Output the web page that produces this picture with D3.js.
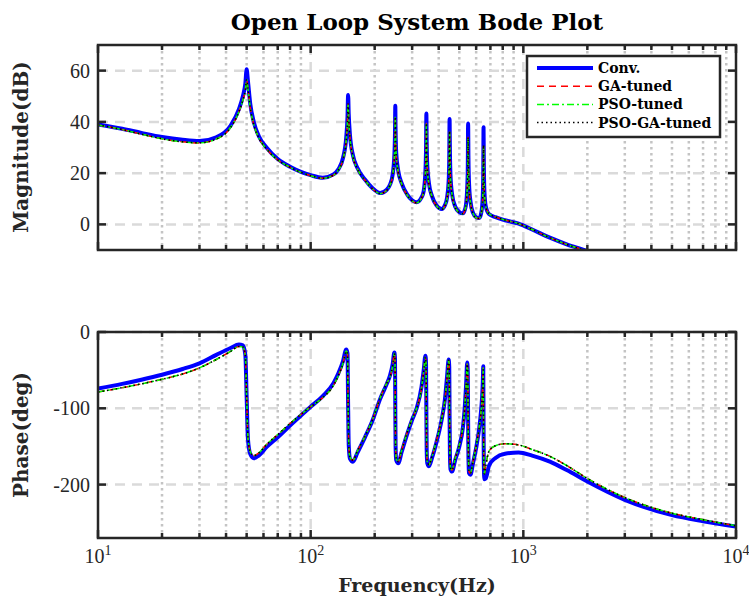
<!DOCTYPE html>
<html>
<head>
<meta charset="utf-8">
<script src="https://cdn.jsdelivr.net/npm/d3@7"></script>
<style>
  body { margin: 0; background: #fff; }
</style>
</head>
<body>
<div id="chart"></div>
<script>
var w = 749;
var h = 599;

// frequency points (Hz) shared by every series
var freq = [
  10, 13, 16, 20, 25, 30, 36, 42, 46, 48, 49.3, 50, 50.7, 52, 54, 57, 62, 70, 80, 90, 100, 114, 128,
  135, 142, 147, 149, 150, 151, 153, 158, 166, 180, 196, 212, 228,
  236, 243, 247.5, 249.2, 250, 250.8, 252.5, 258, 268, 285, 300, 315,
  332, 340, 346.5, 348.8, 350, 351.2, 353.5, 360, 372, 390, 413,
  428, 438, 445.5, 448.4, 450, 451.6, 454.5, 462, 478, 500, 520,
  530, 538, 544.5, 548, 550, 552, 555.5, 564, 580, 600, 621,
  632, 640, 645, 648, 650, 652, 656, 666, 690, 740, 820, 950, 1100, 1333, 1600, 2000, 3000, 5000, 7000, 10000
];

// magnitude (dB)
var magConv = [
  39.0, 37.3, 35.7, 34.1, 33.0, 32.5, 34.0, 38.5, 45.0, 50.0, 55.0, 60.5, 56.0, 47.0, 40.0, 34.5, 30.0, 25.5, 22.5, 20.5, 19.2, 18.2, 19.5,
  21.5, 26, 34, 42, 50.5, 43, 35, 27, 22, 17.5, 14, 12.2, 13.5,
  15.5, 19.5, 27, 36, 46.3, 37, 28, 21, 16, 11.5, 9.4, 8.6,
  10.5, 13, 21, 30, 43.3, 32, 23, 16, 11, 7.5, 6.0,
  7.5, 10.5, 17, 26, 41.1, 29, 19, 12, 7, 4.8, 4.3,
  5.5, 8, 14, 22, 39.4, 26, 16, 9, 4.5, 2.8, 2.5,
  4, 7, 12, 20, 37.9, 24, 13, 7, 4, 2.8, 1.6, 0.3, -2, -5.2, -7.8, -10.5, -17, -25, -30, -35
];
var magTuned = [
  38.8, 37.0, 35.2, 33.4, 32.2, 31.8, 33.3, 37.8, 44.0, 48.5, 52.5, 56.5, 53.0, 45.5, 39.0, 33.8, 29.5, 25.2, 22.3, 20.3, 19.0, 18.0, 19.2,
  21.2, 25.5, 33, 40, 47, 41, 34, 26.5, 21.6, 17.2, 13.8, 12.0, 13.3,
  15.3, 19.2, 26, 33.5, 42, 34.5, 27, 20.5, 15.7, 11.3, 9.2, 8.4,
  10.3, 12.7, 20, 27.5, 39.5, 29.5, 22, 15.6, 10.8, 7.3, 5.8,
  7.3, 10.2, 16, 24, 36.5, 26.5, 18, 11.6, 6.8, 4.6, 4.1,
  5.3, 7.8, 13.5, 20.5, 34, 23.5, 15, 8.6, 4.3, 2.6, 2.3,
  3.8, 6.8, 11.5, 18.5, 31, 21, 12, 6.8, 4.2, 2.9, 1.7, 0.3, -2, -5.2, -7.8, -10.5, -17, -25, -30, -35
];

// phase (deg)
var phaseConv = [
  -74, -68, -62.5, -56, -48.5, -41, -30, -21, -16.5, -17.5, -30, -85, -140, -160, -165.5, -162, -151, -138, -122.5, -109.5, -98, -84, -67,
  -54, -38, -23, -28, -95, -148, -166, -170, -158, -138, -115, -88, -68,
  -57, -42, -27, -35, -100, -150, -168, -172, -157, -133, -115, -100,
  -72, -50, -31, -42, -105, -155, -172, -176, -165, -145, -115,
  -88, -58, -36, -46, -110, -160, -180, -183, -168, -150, -125,
  -100, -70, -40, -52, -115, -165, -185, -187, -172, -152, -125,
  -105, -85, -64, -45, -120, -175, -193, -192, -175, -165, -159.5, -158, -162, -170, -181, -196, -220, -240, -248, -255
];
var phaseTuned = [
  -78.5, -73, -68, -62, -55, -47, -36, -25.5, -19, -19.5, -31, -85, -138, -157, -162, -158.5, -147.5, -134.5, -120, -108, -98, -86, -70,
  -57, -41, -25, -29, -95, -146, -164, -168, -156, -137, -114, -87, -67,
  -59, -44, -28, -36, -100, -148, -166, -170, -155, -131, -114, -100,
  -74, -52, -33, -43, -105, -153, -170, -174, -163, -143, -114,
  -89, -60, -37, -47, -110, -158, -178, -181, -166, -148, -124,
  -101, -72, -42, -53, -115, -163, -183, -185, -170, -150, -124,
  -106, -86, -66, -47, -120, -170, -186, -175, -156, -149, -146.5, -148, -154, -163, -175, -192, -217, -237.5, -246, -254
];

var seriesNames = ["Conv.", "GA-tuned", "PSO-tuned", "PSO-GA-tuned"];
var magTicks = [0, 20, 40, 60];
var phaseTicks = [-200, -100, 0];
var decades = [10, 100, 1000, 10000];
var decadeExp = ["1", "2", "3", "4"];

var series = [
  {name: seriesNames[0], mag: magConv,  phase: phaseConv,  color: "#0000ff", width: 4,   dash: null},
  {name: seriesNames[1], mag: magTuned, phase: phaseTuned, color: "#ff0000", width: 1.5, dash: "7,5"},
  {name: seriesNames[2], mag: magTuned, phase: phaseTuned, color: "#00ff00", width: 1.5, dash: "7,3,2,3"},
  {name: seriesNames[3], mag: magTuned, phase: phaseTuned, color: "#000000", width: 1.5, dash: "1.5,3"}
];

var left = 98, right = 736;
var frameColor = "#262626";
var serif = "'Liberation Serif', serif";
var boldSerif = "'DejaVu Serif', serif";

var svg = d3.select("#chart")
  .append("svg")
  .attr("width", w)
  .attr("height", h)
  .style("background", "#fff");

var x = d3.scaleLog().domain([10, 10000]).range([left, right]);
var minorX = x.ticks().filter(function(d) { return decades.indexOf(d) < 0; });

function drawPanel(id, top, bottom, domain, ticks, key) {
  var y = d3.scaleLinear().domain(domain).range([bottom, top]);
  var g = svg.append("g");

  g.append("clipPath").attr("id", id)
    .append("rect")
    .attr("x", left).attr("y", top)
    .attr("width", right - left).attr("height", bottom - top);

  // minor vertical grid (dotted)
  g.selectAll(".minor")
    .data(minorX)
    .enter()
    .append("line")
    .attr("x1", function(d) { return x(d); })
    .attr("x2", function(d) { return x(d); })
    .attr("y1", top).attr("y2", bottom)
    .style("stroke", "#c4c4c4")
    .style("stroke-width", 2.5)
    .style("stroke-dasharray", "2.5,3.5");

  // major grid (dashed)
  g.selectAll(".majorx")
    .data([100, 1000])
    .enter()
    .append("line")
    .attr("x1", function(d) { return x(d); })
    .attr("x2", function(d) { return x(d); })
    .attr("y1", top).attr("y2", bottom)
    .style("stroke", "#dadada")
    .style("stroke-width", 2.5)
    .style("stroke-dasharray", "10,7");

  g.selectAll(".majory")
    .data(ticks)
    .enter()
    .append("line")
    .attr("x1", left).attr("x2", right)
    .attr("y1", function(d) { return y(d); })
    .attr("y2", function(d) { return y(d); })
    .style("stroke", "#dadada")
    .style("stroke-width", 2.5)
    .style("stroke-dasharray", "10,7");

  // curves
  var line = d3.line()
    .x(function(d) { return x(d[0]); })
    .y(function(d) { return y(d[1]); })
    .curve(d3.curveMonotoneX);

  series.forEach(function(s) {
    var pts = freq.map(function(f, i) { return [f, s[key][i]]; });
    g.append("path")
      .datum(pts)
      .attr("clip-path", "url(#" + id + ")")
      .attr("d", line)
      .style("fill", "none")
      .style("stroke", s.color)
      .style("stroke-width", s.width)
      .style("stroke-linejoin", "round")
      .style("stroke-dasharray", s.dash);
  });

  // ticks, inward on all four sides
  var tk = [];
  decades.forEach(function(d) { tk.push({x: x(d), len: 8}); });
  minorX.forEach(function(d) { tk.push({x: x(d), len: 5}); });
  g.selectAll(".tkb")
    .data(tk)
    .enter()
    .append("line")
    .attr("x1", function(d) { return d.x; }).attr("x2", function(d) { return d.x; })
    .attr("y1", bottom).attr("y2", function(d) { return bottom - d.len; })
    .style("stroke", frameColor).style("stroke-width", 2.5);
  g.selectAll(".tkt")
    .data(tk)
    .enter()
    .append("line")
    .attr("x1", function(d) { return d.x; }).attr("x2", function(d) { return d.x; })
    .attr("y1", top).attr("y2", function(d) { return top + d.len; })
    .style("stroke", frameColor).style("stroke-width", 2.5);
  g.selectAll(".tkl")
    .data(ticks)
    .enter()
    .append("line")
    .attr("x1", left).attr("x2", left + 8)
    .attr("y1", function(d) { return y(d); }).attr("y2", function(d) { return y(d); })
    .style("stroke", frameColor).style("stroke-width", 2.5);
  g.selectAll(".tkr")
    .data(ticks)
    .enter()
    .append("line")
    .attr("x1", right).attr("x2", right - 8)
    .attr("y1", function(d) { return y(d); }).attr("y2", function(d) { return y(d); })
    .style("stroke", frameColor).style("stroke-width", 2.5);

  // frame
  g.append("rect")
    .attr("x", left).attr("y", top)
    .attr("width", right - left).attr("height", bottom - top)
    .style("fill", "none")
    .style("stroke", frameColor)
    .style("stroke-width", 2.5);

  // y tick labels
  g.selectAll(".ylab")
    .data(ticks)
    .enter()
    .append("text")
    .attr("x", left - 8)
    .attr("y", function(d) { return y(d); })
    .attr("dy", "0.35em")
    .attr("text-anchor", "end")
    .style("font-family", serif)
    .style("font-size", "20px")
    .style("fill", frameColor)
    .text(function(d) { return d; });

  return y;
}

drawPanel("clipMag", 45, 250, [-10, 70], magTicks, "mag");
drawPanel("clipPhase", 332, 538, [-270, 0], phaseTicks, "phase");

// x tick labels 10^n
var xl = svg.selectAll(".xlab")
  .data(decades)
  .enter()
  .append("text")
  .attr("x", function(d) { return x(d); })
  .attr("y", 563)
  .attr("text-anchor", "middle")
  .style("font-family", serif)
  .style("font-size", "20px")
  .style("fill", frameColor);
xl.append("tspan").text("10");
xl.append("tspan")
  .attr("dy", -8)
  .style("font-size", "14px")
  .text(function(d, i) { return decadeExp[i]; });

// titles
svg.append("text")
  .attr("x", (left + right) / 2).attr("y", 30)
  .attr("text-anchor", "middle")
  .style("font-family", boldSerif).style("font-weight", "bold")
  .style("font-size", "23px").style("fill", "#000")
  .text("Open Loop System Bode Plot");

svg.append("text")
  .attr("x", (left + right) / 2).attr("y", 592)
  .attr("text-anchor", "middle")
  .style("font-family", boldSerif).style("font-weight", "bold")
  .style("font-size", "19px").style("fill", frameColor)
  .text("Frequency(Hz)");

svg.append("text")
  .attr("transform", "translate(28,147) rotate(-90)")
  .attr("text-anchor", "middle")
  .style("font-family", boldSerif).style("font-weight", "bold")
  .style("font-size", "20px").style("fill", frameColor)
  .text("Magnitude(dB)");

svg.append("text")
  .attr("transform", "translate(28,435) rotate(-90)")
  .attr("text-anchor", "middle")
  .style("font-family", boldSerif).style("font-weight", "bold")
  .style("font-size", "20px").style("fill", frameColor)
  .text("Phase(deg)");

// legend
var lg = svg.append("g");
lg.append("rect")
  .attr("x", 527).attr("y", 56)
  .attr("width", 193).attr("height", 81)
  .style("fill", "#fff")
  .style("stroke", frameColor)
  .style("stroke-width", 2.5);

var rows = lg.selectAll(".row")
  .data(series)
  .enter()
  .append("g")
  .attr("transform", function(d, i) { return "translate(0," + (68 + i * 18.2) + ")"; });
rows.append("line")
  .attr("x1", 537).attr("x2", 593)
  .attr("y1", 0).attr("y2", 0)
  .style("stroke", function(d) { return d.color; })
  .style("stroke-width", function(d) { return d.width; })
  .style("stroke-dasharray", function(d) { return d.dash; });
rows.append("text")
  .attr("x", 598).attr("y", 0)
  .attr("dy", "0.35em")
  .style("font-family", boldSerif).style("font-weight", "bold")
  .style("font-size", "14px").style("fill", "#000")
  .text(function(d) { return d.name; });
</script>
</body>
</html>
